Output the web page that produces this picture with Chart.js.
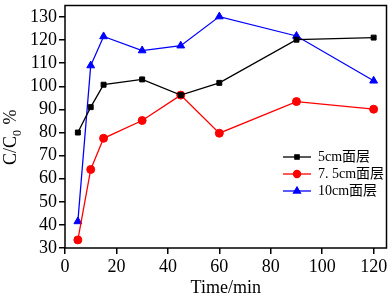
<!DOCTYPE html>
<html>
<head>
<meta charset="utf-8">
<script src="https://cdn.jsdelivr.net/npm/chart.js@4/dist/chart.umd.min.js"></script>
<style>
  html, body { margin: 0; padding: 0; background: #fff; }
  #wrap { width: 392px; height: 301px; }
</style>
</head>
<body>
<div id="wrap"><canvas id="chart"></canvas></div>
<script>
// values
var times = [5, 10, 15, 30, 45, 60, 90, 120];
var seriesNames = ['5cm面层', '7. 5cm面层', '10cm面层'];
var layer5 = [80, 91, 100.7, 103, 96.2, 101.5, 120.2, 121.1];
var layer75 = [33.5, 64, 77.5, 85.2, 96.2, 79.7, 93.4, 90.1];
var layer10 = [41.5, 109, 121.6, 115.5, 117.6, 130.2, 121.8, 102.4];
var xTicks = [0, 20, 40, 60, 80, 100, 120];
var yTicks = [30, 40, 50, 60, 70, 80, 90, 100, 110, 120, 130];

function toPoints(vals) {
	return times.map(function (t, i) { return {x: t, y: vals[i]}; });
}

var serif = '"Liberation Serif", "Times New Roman", serif';

// frame, axis titles and the legend box
var decor = {
	id: 'decor',
	afterDraw: function (chart) {
		var ctx = chart.ctx, a = chart.chartArea;
		ctx.save();
		ctx.strokeStyle = '#000';
		ctx.lineWidth = 1.5;
		ctx.strokeRect(a.left, a.top, a.right - a.left, a.bottom - a.top);

		ctx.fillStyle = '#000';
		ctx.textAlign = 'center';
		ctx.textBaseline = 'middle';
		ctx.font = '18px ' + serif;
		ctx.fillText('Time/min', (a.left + a.right) / 2, 288);

		// y title: C/C0 %, rotated
		ctx.translate(16, 136);
		ctx.rotate(-Math.PI / 2);
		ctx.textAlign = 'left';
		ctx.textBaseline = 'alphabetic';
		ctx.font = '18px ' + serif;
		var x0 = -29;
		ctx.fillText('C/C', x0, 0);
		var w = ctx.measureText('C/C').width;
		ctx.font = '12px ' + serif;
		ctx.fillText('0', x0 + w, 5);
		var w2 = ctx.measureText('0').width;
		ctx.font = '18px ' + serif;
		ctx.fillText(' %', x0 + w + w2 + 1, 0);
		ctx.restore();

		// legend
		ctx.save();
		var rowY = [157, 174, 191];
		chart.data.datasets.forEach(function (ds, i) {
			var y = rowY[i];
			ctx.strokeStyle = ds.borderColor;
			ctx.lineWidth = 1.3;
			ctx.beginPath();
			ctx.moveTo(283, y);
			ctx.lineTo(311, y);
			ctx.stroke();
			Chart.helpers.drawPoint(ctx, {
				pointStyle: ds.pointStyle,
				radius: ds.pointRadius - 0.5,
				borderWidth: 1
			}, 297, y);
			ctx.fillStyle = ds.borderColor;
			ctx.fill();
			ctx.fillStyle = '#000';
			ctx.font = '14px "Liberation Serif", "Noto Sans CJK SC", serif';
			ctx.textAlign = 'left';
			ctx.textBaseline = 'middle';
			ctx.fillText(ds.label, 318, y);
		});
		ctx.restore();
	}
};

function makeSet(label, vals, color, style, r) {
	return {
		label: label,
		data: toPoints(vals),
		borderColor: color,
		backgroundColor: color,
		borderWidth: 1.3,
		pointStyle: style,
		pointRadius: r,
		pointHoverRadius: r,
		pointBorderWidth: 1,
		tension: 0,
		fill: false
	};
}

new Chart('chart', {
	type: 'line',
	data: {
		datasets: [
			makeSet(seriesNames[0], layer5, '#000000', 'rect', 3.5),
			makeSet(seriesNames[1], layer75, '#ff0000', 'circle', 4),
			makeSet(seriesNames[2], layer10, '#0000ff', 'triangle', 4.5)
		]
	},
	options: {
		responsive: true,
		maintainAspectRatio: false,
		animation: false,
		layout: {padding: {top: 1, right: 1, left: 0, bottom: 0}},
		plugins: {legend: {display: false}, tooltip: {enabled: false}},
		scales: {
			x: {
				type: 'linear',
				min: 0,
				max: 125,
				afterBuildTicks: function (s) { s.ticks = xTicks.map(function (v) { return {value: v}; }); },
				afterFit: function (s) { s.height = 53; s.paddingLeft = 0; s.paddingRight = 0; },
				grid: {display: true, drawOnChartArea: false, drawTicks: true, tickLength: 6, color: '#000', lineWidth: 1.5},
				border: {display: false},
				ticks: {color: '#000', font: {family: serif, size: 18}, padding: 2, maxRotation: 0, autoSkip: false}
			},
			y: {
				type: 'linear',
				min: 30,
				max: 135,
				afterBuildTicks: function (s) { s.ticks = yTicks.map(function (v) { return {value: v}; }); },
				afterFit: function (s) { s.width = 65; s.paddingTop = 0; s.paddingBottom = 0; },
				grid: {display: true, drawOnChartArea: false, drawTicks: true, tickLength: 6, color: '#000', lineWidth: 1.5},
				border: {display: false},
				ticks: {color: '#000', font: {family: serif, size: 18}, padding: 2, autoSkip: false}
			}
		}
	},
	plugins: [decor]
});
</script>
</body>
</html>
